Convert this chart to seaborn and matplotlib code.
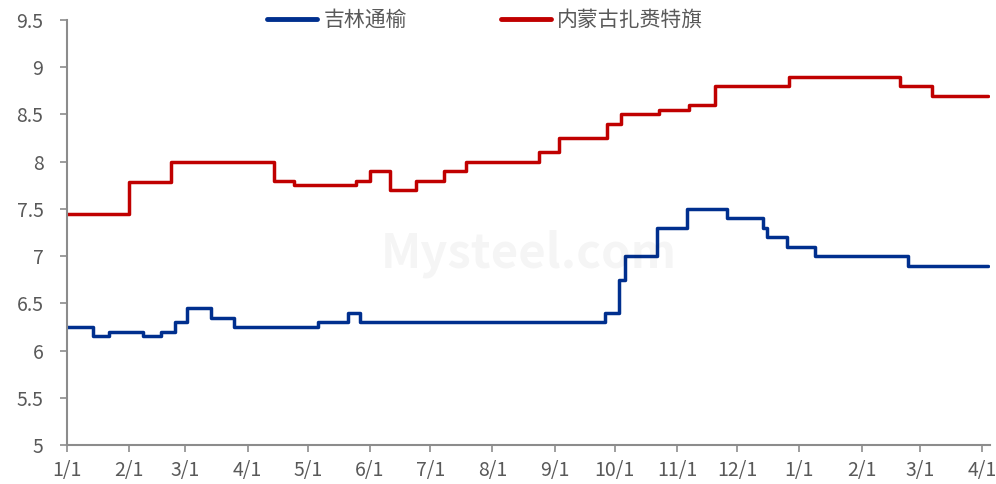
import pandas as pd
import matplotlib
matplotlib.use("Agg")
import matplotlib.pyplot as plt
import matplotlib.dates as mdates
from matplotlib.lines import Line2D
import seaborn as sns

# change points of the step series (date, price)
jl_dates = ["2023-01-01", "2023-01-14", "2023-01-22", "2023-02-08", "2023-02-17",
            "2023-02-24", "2023-03-02", "2023-03-14", "2023-03-25", "2023-05-06",
            "2023-05-21", "2023-05-27", "2023-09-26", "2023-10-03", "2023-10-06",
            "2023-10-22", "2023-11-06", "2023-11-26", "2023-12-14", "2023-12-16",
            "2023-12-26", "2024-01-09", "2024-02-24", "2024-04-04"]
jl_vals = [6.25, 6.15, 6.2, 6.15, 6.2, 6.3, 6.45, 6.35, 6.25, 6.3,
           6.4, 6.3, 6.4, 6.75, 7.0, 7.3, 7.5, 7.4, 7.3, 7.2,
           7.1, 7.0, 6.9, 6.9]

nm_dates = ["2023-01-01", "2023-02-01", "2023-02-22", "2023-04-14", "2023-04-24",
            "2023-05-25", "2023-06-01", "2023-06-11", "2023-06-24", "2023-07-08",
            "2023-07-19", "2023-08-24", "2023-09-03", "2023-09-27", "2023-10-04",
            "2023-10-23", "2023-11-07", "2023-11-20", "2023-12-27", "2024-02-20",
            "2024-03-07", "2024-04-04"]
nm_vals = [7.45, 7.78, 8.0, 7.8, 7.75, 7.8, 7.9, 7.7, 7.8, 7.9,
           8.0, 8.1, 8.25, 8.4, 8.5, 8.55, 8.6, 8.8, 8.9, 8.8,
           8.7, 8.7]

names = ["吉林通榆", "内蒙古扎赉特旗"]
colors = ["#002F8E", "#C00000"]
yticks = [5, 5.5, 6, 6.5, 7, 7.5, 8, 8.5, 9, 9.5]

df = pd.concat([
    pd.DataFrame({"date": pd.to_datetime(jl_dates), "price": jl_vals, "area": names[0]}),
    pd.DataFrame({"date": pd.to_datetime(nm_dates), "price": nm_vals, "area": names[1]}),
])

sns.set_style("white")
plt.rcParams["font.family"] = ["Noto Sans CJK SC", "DejaVu Sans"]

fig = plt.figure(figsize=(9.96, 4.84), dpi=100)
ax = fig.add_axes([67/996, 1-445/484, (990-67)/996, (445-20)/484])

sns.lineplot(data=df, x="date", y="price", hue="area", palette=colors,
             drawstyle="steps-post", linewidth=2.5, ax=ax, legend=False)

# faint watermark
ax.text(0.5, 0.45, "Mysteel.com", transform=ax.transAxes, fontsize=34,
        color="#000000", alpha=0.04, ha="center", va="center", fontweight="bold")

ax.set_xlim(pd.Timestamp("2023-01-01"), pd.Timestamp("2024-04-05"))
ax.set_ylim(5, 9.5)
ax.set_yticks(yticks)
ax.set_yticklabels([f"{v:g}" for v in yticks])
ax.xaxis.set_major_locator(mdates.MonthLocator())
ax.xaxis.set_major_formatter(mdates.DateFormatter("%-m/%-d"))
ax.set_xlabel("")
ax.set_ylabel("")

for s in ["top", "right"]:
    ax.spines[s].set_visible(False)
for s in ["left", "bottom"]:
    ax.spines[s].set_color("#8C8C8C")
    ax.spines[s].set_linewidth(1.5)
ax.tick_params(axis="both", direction="out", length=5, width=1.2, color="#8C8C8C",
               labelsize=14, labelcolor="#595959", left=True, bottom=True)
ax.tick_params(axis="x", pad=6)
ax.tick_params(axis="y", pad=12)

handles = [Line2D([], [], color=c, linewidth=3.5) for c in colors]
fig.legend(handles, names, loc="upper center", bbox_to_anchor=(485/996, 1.02),
           ncol=2, frameon=False, fontsize=15, handlelength=2.4,
           columnspacing=4.5, handletextpad=0.3, labelcolor="#595959")

fig.savefig("out.png", dpi=100)
